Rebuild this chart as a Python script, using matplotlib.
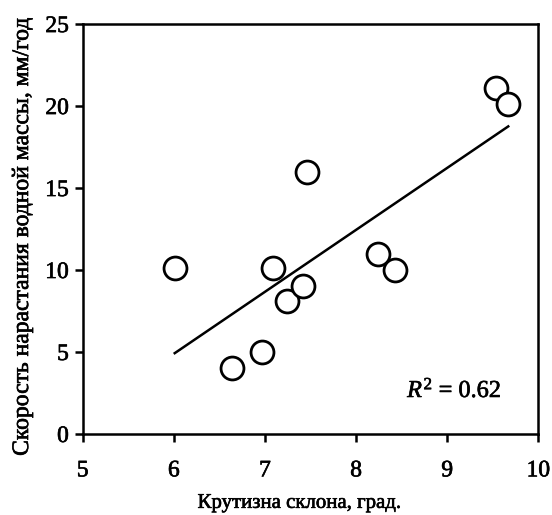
import matplotlib
matplotlib.use("Agg")
import matplotlib.pyplot as plt
import matplotlib.patheffects as pe
import numpy as np

# --- Data ---
slope_deg = [6.01, 6.64, 6.97, 7.09, 7.24, 7.42, 7.46, 8.24, 8.43, 9.54, 9.67]
growth_mm = [10.1, 4.0, 5.0, 10.1, 8.1, 9.0, 16.0, 11.0, 10.0, 21.1, 20.1]
x_ticks = [5, 6, 7, 8, 9, 10]
y_ticks = [0, 5, 10, 15, 20, 25]
r2_text = "$R^2$ = 0.62"

plt.rcParams.update({
    "font.family": "serif",
    "font.serif": ["Liberation Serif", "DejaVu Serif"],
    "mathtext.fontset": "custom",
    "mathtext.rm": "Liberation Serif",
    "mathtext.it": "Liberation Serif:italic",
    "font.size": 12,
})

# scanned-look text is a bit heavier than the regular face
bold_ish = [pe.withStroke(linewidth=0.45, foreground="black")]

fig = plt.figure(figsize=(5.52, 5.15), dpi=100)
ax = fig.add_axes([0.1498, 0.1573, 0.8254, 0.796])

ax.plot(slope_deg, growth_mm, "o", ms=16.5, mfc="white", mec="black",
        mew=2.0, zorder=3, clip_on=False)

# linear fit, drawn over the data range only
x = np.array(slope_deg)
k, b = np.polyfit(x, growth_mm, 1)
xs = np.array([x.min(), x.max()])
ax.plot(xs, k * xs + b, color="black", lw=1.8, zorder=2)

ax.set_xlim(5, 10)
ax.set_ylim(0, 25)
ax.set_xticks(x_ticks)
ax.set_yticks(y_ticks)
for s in ax.spines.values():
    s.set_linewidth(1.8)
ax.tick_params(direction="out", length=6, width=1.8, labelsize=17, pad=4)
ax.tick_params(axis="x", pad=13)

ax.set_xlabel("Крутизна склона, град.", fontsize=15)
ax.set_ylabel("Скорость нарастания водной массы, мм/год", fontsize=17)
ax.xaxis.set_label_coords(0.476, -0.146)
ax.yaxis.set_label_coords(-0.109, 0.481)

r2 = ax.text(0.712, 0.090, r2_text, transform=ax.transAxes, fontsize=17.5,
             va="baseline")

for t in ax.get_xticklabels() + ax.get_yticklabels() + [
        ax.xaxis.label, ax.yaxis.label, r2]:
    t.set_path_effects(bold_ish)

fig.savefig("out.png", dpi=100)
